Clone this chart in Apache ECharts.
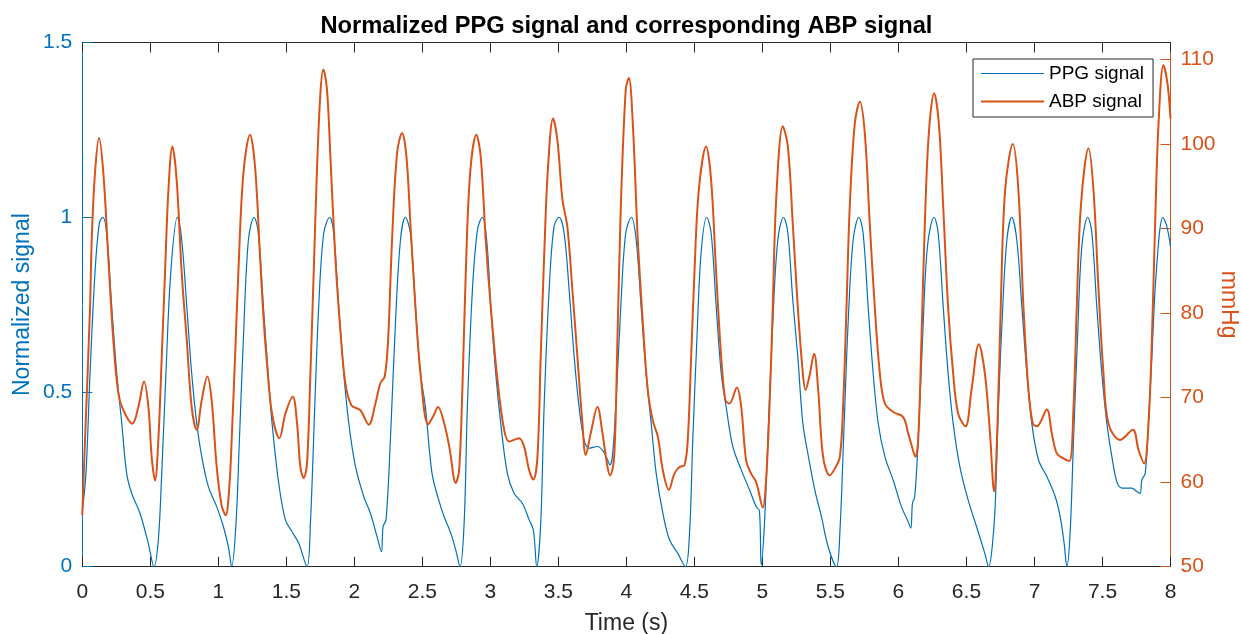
<!DOCTYPE html>
<html>
<head>
<meta charset="utf-8">
<script src="https://cdn.jsdelivr.net/npm/echarts@6/dist/echarts.min.js"></script>
<style>
html,body{margin:0;padding:0;background:#fff;}
#chart{width:1242px;height:634px;}
</style>
</head>
<body>
<div id="chart"></div>
<script>
// ---- Data ----
const xTicks = [0, 0.5, 1, 1.5, 2, 2.5, 3, 3.5, 4, 4.5, 5, 5.5, 6, 6.5, 7, 7.5, 8];
const leftTicks = [0, 0.5, 1, 1.5];
const rightTicks = [50, 60, 70, 80, 90, 100, 110];

const ppgT = [0.000,0.027,0.057,0.093,0.125,0.150,0.179,0.216,0.253,0.290,0.326,0.363,0.424,0.485,0.527,0.559,0.584,0.615,0.650,0.699,0.731,0.768,0.804,0.841,0.878,0.927,0.988,1.037,1.074,1.098,1.130,1.155,1.184,1.221,1.263,1.294,1.331,1.366,1.395,1.444,1.493,1.542,1.591,1.652,1.677,1.709,1.738,1.775,1.819,1.848,1.885,1.922,1.959,2.008,2.069,2.118,2.167,2.199,2.211,2.233,2.265,2.302,2.339,2.375,2.412,2.449,2.486,2.522,2.571,2.620,2.660,2.709,2.745,2.777,2.807,2.831,2.868,2.905,2.941,2.973,3.003,3.039,3.076,3.125,3.174,3.236,3.285,3.316,3.341,3.370,3.395,3.432,3.468,3.505,3.542,3.579,3.616,3.652,3.689,3.726,3.787,3.831,3.861,3.878,3.897,3.922,3.959,3.995,4.037,4.072,4.108,4.145,4.182,4.219,4.268,4.317,4.378,4.434,4.464,4.488,4.518,4.549,4.591,4.623,4.660,4.697,4.733,4.782,4.844,4.905,4.954,4.978,4.991,5.015,5.040,5.076,5.113,5.155,5.187,5.223,5.260,5.297,5.336,5.385,5.434,5.483,5.544,5.569,5.601,5.630,5.667,5.709,5.740,5.777,5.814,5.851,5.900,5.961,6.022,6.071,6.091,6.103,6.120,6.145,6.177,6.213,6.262,6.292,6.329,6.365,6.402,6.451,6.512,6.574,6.635,6.664,6.690,6.711,6.735,6.767,6.797,6.833,6.870,6.907,6.944,6.980,7.029,7.091,7.152,7.189,7.218,7.238,7.262,7.287,7.316,7.348,7.392,7.422,7.458,7.495,7.532,7.569,7.605,7.642,7.716,7.752,7.777,7.789,7.814,7.838,7.863,7.895,7.944,7.973,8.000];
const ppgV = [0.16,0.267,0.554,0.840,0.983,1.0,0.955,0.745,0.554,0.411,0.267,0.210,0.153,0.067,0.0,0.077,0.267,0.554,0.840,1.0,0.935,0.745,0.554,0.411,0.315,0.229,0.172,0.115,0.057,0.0,0.124,0.363,0.649,0.935,1.0,0.955,0.745,0.554,0.411,0.239,0.134,0.100,0.067,0.0,0.124,0.458,0.745,0.955,1.0,0.955,0.745,0.554,0.411,0.287,0.201,0.153,0.086,0.043,0.115,0.134,0.363,0.697,0.935,1.0,0.955,0.745,0.554,0.458,0.267,0.191,0.143,0.096,0.048,0.0,0.124,0.458,0.792,0.964,1.0,0.935,0.745,0.554,0.411,0.267,0.210,0.181,0.134,0.105,0.0,0.124,0.458,0.792,0.974,1.0,0.955,0.792,0.601,0.458,0.363,0.339,0.344,0.330,0.306,0.291,0.315,0.458,0.745,0.955,1.0,0.935,0.745,0.554,0.411,0.267,0.153,0.077,0.038,0.0,0.096,0.363,0.649,0.897,1.0,0.955,0.745,0.554,0.458,0.344,0.277,0.220,0.172,0.160,0.005,0.124,0.363,0.697,0.935,1.0,0.955,0.764,0.601,0.411,0.320,0.220,0.143,0.057,0.0,0.096,0.411,0.697,0.935,1.0,0.955,0.745,0.554,0.411,0.315,0.248,0.172,0.129,0.110,0.181,0.201,0.363,0.649,0.916,1.0,0.955,0.745,0.554,0.411,0.287,0.191,0.115,0.038,0.0,0.06,0.172,0.458,0.745,0.935,1.0,0.935,0.745,0.554,0.411,0.306,0.258,0.201,0.143,0.067,0.0,0.096,0.363,0.649,0.916,1.0,0.955,0.745,0.554,0.411,0.315,0.244,0.225,0.225,0.215,0.210,0.248,0.267,0.411,0.601,0.840,1.0,0.974,0.916];

const abpT = [0.000,0.020,0.057,0.069,0.093,0.123,0.155,0.191,0.228,0.265,0.302,0.368,0.412,0.454,0.486,0.510,0.535,0.559,0.584,0.608,0.633,0.662,0.694,0.731,0.768,0.804,0.841,0.878,0.919,0.951,0.988,1.025,1.054,1.081,1.098,1.123,1.147,1.184,1.233,1.270,1.307,1.330,1.358,1.395,1.449,1.493,1.547,1.579,1.603,1.628,1.652,1.677,1.701,1.726,1.750,1.772,1.799,1.824,1.860,1.897,1.934,1.978,2.044,2.106,2.155,2.191,2.223,2.248,2.277,2.314,2.351,2.383,2.412,2.449,2.486,2.542,2.580,2.615,2.660,2.700,2.745,2.770,2.794,2.819,2.851,2.897,2.929,2.966,3.003,3.052,3.101,3.138,3.211,3.248,3.285,3.316,3.346,3.370,3.395,3.424,3.461,3.493,3.530,3.566,3.603,3.640,3.677,3.701,3.738,3.787,3.824,3.861,3.880,3.910,3.934,3.959,3.995,4.018,4.047,4.084,4.121,4.157,4.194,4.231,4.268,4.312,4.353,4.390,4.427,4.451,4.476,4.500,4.532,4.586,4.623,4.660,4.697,4.728,4.758,4.812,4.844,4.880,4.917,4.954,5.003,5.027,5.052,5.076,5.101,5.150,5.187,5.223,5.260,5.297,5.317,5.345,5.380,5.410,5.446,5.495,5.532,5.569,5.593,5.618,5.642,5.679,5.716,5.753,5.789,5.826,5.863,5.900,5.961,6.035,6.071,6.096,6.125,6.145,6.169,6.194,6.223,6.262,6.297,6.329,6.365,6.402,6.439,6.493,6.537,6.591,6.635,6.672,6.703,6.728,6.752,6.784,6.841,6.882,6.919,6.956,6.988,7.017,7.091,7.127,7.164,7.213,7.257,7.287,7.311,7.341,7.397,7.434,7.471,7.507,7.544,7.630,7.723,7.765,7.806,7.838,7.863,7.887,7.912,7.948,7.978,8.000];
const abpV = [56.1,65.0,80.7,88.6,96.5,100.7,96.5,86.6,76.8,70.5,68.5,66.9,68.9,71.9,68.9,63.0,60.2,65.0,74.8,84.7,94.5,99.7,95.7,84.7,76.8,68.9,66.2,69.7,72.5,69.7,61.8,57.2,56.1,59.5,65.0,74.8,84.7,96.5,101.1,97.3,86.6,80.0,74.0,68.1,65.2,68.1,70.1,66.9,61.8,60.5,62.2,72.9,84.7,97.3,105.9,108.8,106.4,98.5,86.6,78.0,71.7,69.1,68.5,66.8,69.3,71.7,72.5,76.8,88.6,98.9,101.3,98.5,90.6,80.7,72.9,66.8,67.8,68.9,67.0,64.0,59.9,61.4,70.9,84.7,96.5,101.1,98.5,88.6,80.7,72.1,66.2,64.8,65.2,64.2,61.4,60.3,63.0,74.8,86.6,97.3,103.0,100.4,93.4,90.2,82.7,74.8,66.9,63.2,65.8,68.9,65.8,61.8,60.8,63.0,76.8,92.6,106.4,107.8,102.4,88.6,78.8,70.9,67.3,65.4,61.4,59.1,61.0,61.8,62.0,65.0,74.8,84.7,94.5,99.7,95.7,84.7,74.8,69.7,69.3,71.2,68.9,62.6,61.0,60.0,57.0,60.3,68.9,80.7,93.4,102.1,99.7,90.6,80.7,72.9,70.9,72.5,75.2,70.9,63.0,60.8,61.6,63.0,68.9,80.7,92.6,102.4,105.0,101.2,90.6,80.7,72.9,69.3,68.3,67.7,65.8,64.4,63.0,65.0,76.8,90.6,101.2,106.0,102.4,92.6,80.7,72.9,68.1,66.6,70.9,76.3,72.9,66.0,58.9,66.9,80.7,94.5,100.0,94.5,80.7,70.9,66.9,66.6,68.6,65.8,63.4,62.8,62.5,68.9,80.7,92.6,99.5,94.5,82.7,72.9,66.9,65.0,66.2,63.8,62.2,66.9,76.8,90.6,102.4,109.3,107.1,103.0];

const seriesNames = ['PPG signal', 'ABP signal'];
const titleText = 'Normalized PPG signal and corresponding ABP signal';

// ---- Chart ----
const BLUE = '#0072BD', ORANGE = '#D95319', AX = '#262626';
const FONT = 'Liberation Sans, Arial, Helvetica, sans-serif';
const ppgData = ppgT.map((t, i) => [t, ppgV[i]]);
const abpData = abpT.map((t, i) => [t, abpV[i]]);

const chart = echarts.init(document.getElementById('chart'), null, {renderer: 'canvas'});
const xCommon = {
  type: 'value', min: xTicks[0], max: xTicks[xTicks.length - 1], interval: xTicks[1] - xTicks[0],
  splitLine: {show: false},
  axisLine: {show: true, onZero: false, lineStyle: {color: AX, width: 1}},
  axisTick: {show: true, inside: true, length: 10, lineStyle: {color: AX, width: 1}}
};
chart.setOption({
  animation: false,
  backgroundColor: '#fff',
  title: {
    text: titleText, left: 626.4, top: 14, padding: 0, textAlign: 'center',
    textStyle: {fontFamily: FONT, fontWeight: 'bold', fontSize: 23.7, color: '#000'}
  },
  grid: {left: 82.3, right: 71.5, top: 42.5, bottom: 67.3, containLabel: false, outerBoundsMode: 'none'},
  legend: {
    orient: 'vertical', left: 973, top: 59,
    padding: [5, 9, 6, 8], itemGap: 9, itemWidth: 63, itemHeight: 14,
    backgroundColor: '#fff', borderColor: AX, borderWidth: 1, borderRadius: 0,
    textStyle: {fontFamily: FONT, fontSize: 19, color: '#000'},
    data: [
      {name: seriesNames[0], icon: 'path://M0,0H63V1.2H0Z'},
      {name: seriesNames[1], icon: 'path://M0,0H63V2H0Z'}
    ]
  },
  xAxis: [
    Object.assign({}, xCommon, {
      position: 'bottom',
      name: 'Time (s)', nameLocation: 'middle', nameGap: 45, nameMoveOverlap: false,
      nameTextStyle: {fontFamily: FONT, fontSize: 23, color: AX},
      axisLabel: {show: true, margin: 15, fontFamily: FONT, fontSize: 21, color: AX}
    }),
    Object.assign({}, xCommon, {position: 'top', axisLabel: {show: false}})
  ],
  yAxis: [
    {
      type: 'value', position: 'left', min: leftTicks[0], max: leftTicks[leftTicks.length - 1],
      interval: leftTicks[1] - leftTicks[0],
      name: 'Normalized signal', nameLocation: 'middle', nameGap: 48, nameMoveOverlap: false,
      nameTextStyle: {fontFamily: FONT, fontSize: 23, color: BLUE},
      splitLine: {show: false},
      axisLine: {show: true, onZero: false, lineStyle: {color: BLUE, width: 1}},
      axisTick: {show: true, inside: true, length: 10, lineStyle: {color: BLUE}},
      axisLabel: {margin: 10, fontFamily: FONT, fontSize: 21, color: BLUE}
    },
    {
      type: 'value', position: 'right', min: rightTicks[0], max: 112,
      interval: rightTicks[1] - rightTicks[0],
      name: 'mmHg', nameLocation: 'middle', nameGap: 46, nameRotate: -90, nameMoveOverlap: false,
      nameTextStyle: {fontFamily: FONT, fontSize: 23, color: ORANGE},
      splitLine: {show: false},
      axisLine: {show: true, onZero: false, lineStyle: {color: ORANGE, width: 1}},
      axisTick: {show: true, inside: true, length: 10, lineStyle: {color: ORANGE}},
      axisLabel: {margin: 10, fontFamily: FONT, fontSize: 21, color: ORANGE, showMaxLabel: false,
        formatter: v => (rightTicks.indexOf(v) >= 0 ? String(v) : '')}
    }
  ],
  series: [
    {
      name: seriesNames[0], type: 'line', xAxisIndex: 0, yAxisIndex: 0,
      data: ppgData, symbol: 'none', smooth: 0.35,
      lineStyle: {color: BLUE, width: 1.2}, itemStyle: {color: BLUE}, z: 2
    },
    {
      name: seriesNames[1], type: 'line', xAxisIndex: 0, yAxisIndex: 1,
      data: abpData, symbol: 'none', smooth: 0.35,
      lineStyle: {color: ORANGE, width: 2}, itemStyle: {color: ORANGE}, z: 3
    }
  ]
});
</script>
</body>
</html>
